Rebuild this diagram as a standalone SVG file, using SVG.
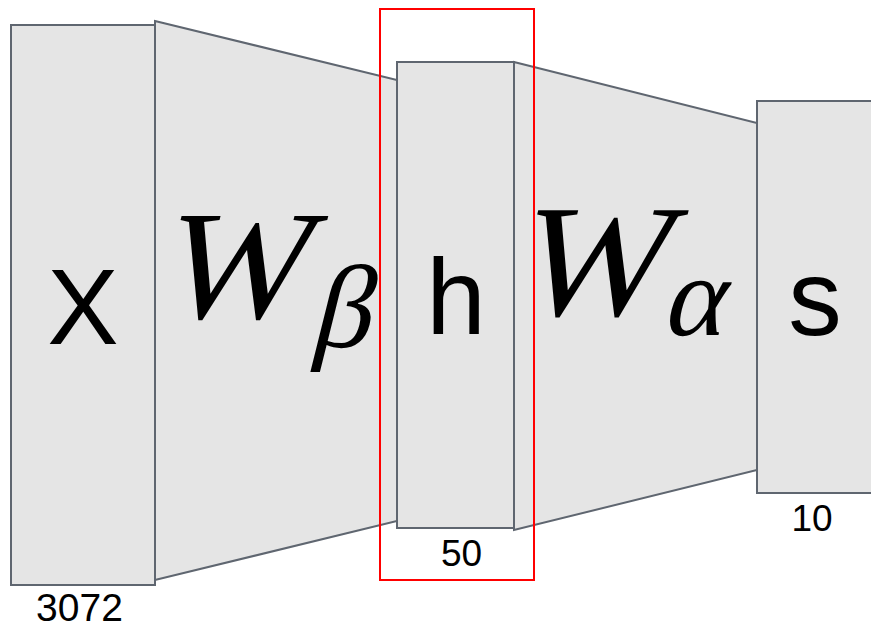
<svg xmlns="http://www.w3.org/2000/svg" width="871" height="629" viewBox="0 0 871 629">
<style>
.blk{fill:#e5e5e5;stroke:#5f6670;stroke-width:2;stroke-linejoin:miter}
.lbl{font-family:"Liberation Sans",Arial,sans-serif;fill:#000;text-anchor:middle}
.math{font-family:"Liberation Serif","Times New Roman",serif;fill:#000}
.sel{fill:none;stroke:#ff0000;stroke-width:2}
</style>
<rect width="871" height="629" fill="#ffffff"/>
<g id="connectors">
<polygon class="blk" points="155,21 397,80 397,521 155,580"/>
<polygon class="blk" points="514,62 757,123 757,470 514,530"/>
</g>
<g id="node-x">
<rect class="blk" x="11" y="25" width="144" height="560"/>
<text class="lbl" x="83" y="344" font-size="107">X</text>
<text class="lbl" x="79.5" y="621" font-size="39">3072</text>
</g>
<g id="node-h">
<rect class="blk" x="397" y="62" width="117" height="466"/>
<text class="lbl" x="456" y="334" font-size="107">h</text>
<text class="lbl" x="461.5" y="566" font-size="37">50</text>
</g>
<g id="node-s">
<rect class="blk" x="757" y="101" width="120" height="392"/>
<text class="lbl" x="815" y="335" font-size="107">s</text>
<text class="lbl" x="812" y="531" font-size="37">10</text>
</g>
<g id="label-wbeta">
<text class="math" transform="translate(156,318) skewX(-14)" font-size="156">W</text>
<text class="math" transform="translate(309,347) skewX(-14)" font-size="118">β</text>
</g>
<g id="label-walpha">
<text class="math" transform="translate(512,315) skewX(-14)" font-size="160">W</text>
<text class="math" transform="translate(661,335) skewX(-14)" font-size="115">α</text>
</g>
<g id="selection">
<rect class="sel" x="380" y="9" width="154" height="571"/>
</g>
</svg>
